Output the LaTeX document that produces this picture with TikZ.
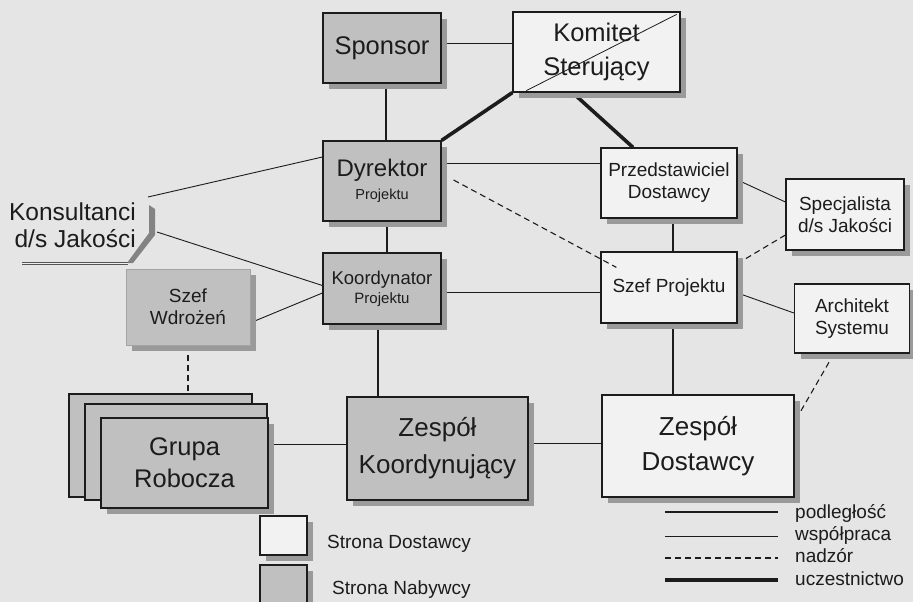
\documentclass[tikz,border=0pt]{standalone}
\usepackage{fontspec}
\setmainfont{Liberation Sans}
\usetikzlibrary{shadows,calc,backgrounds}

\definecolor{paper}{HTML}{E5E5E5}
\definecolor{boxwhite}{HTML}{F2F2F2}
\definecolor{boxgray}{HTML}{C0C0C0}
\definecolor{shade}{HTML}{9A9A9A}
\definecolor{ink}{HTML}{1C1C1C}

\tikzset{
  card/.style={draw=ink, line width=1.2pt, inner sep=0pt, text=ink, align=center},
  unit/.style={card, drop shadow={shadow xshift=6pt, shadow yshift=-6pt, fill=shade, opacity=1}},
  supplier/.style={unit, fill=boxwhite},
  buyer/.style={unit, fill=boxgray},
  % relation line kinds
  subord/.style={draw=ink, line width=1.4pt},
  coop/.style={draw=ink, line width=0.9pt},
  superv/.style={draw=ink, line width=1.1pt, dash pattern=on 6pt off 4pt},
  partic/.style={draw=ink, line width=3.6pt},
  bigtext/.style={font=\fontsize{25.5}{34}\selectfont},
  midtext/.style={font=\fontsize{19}{22}\selectfont},
  legtext/.style={font=\fontsize{19}{22}\selectfont, text=ink, anchor=west, inner sep=0pt},
}

\begin{document}
\begin{tikzpicture}[x=1pt, y=-1pt]
\useasboundingbox (0,0) rectangle (913,602);

% ---- upper level
\node[buyer, bigtext, minimum width=118pt, minimum height=70pt] (spo) at (382,48) {Sponsor};
\node[supplier, bigtext, minimum width=167pt, minimum height=80pt] (kom) at (596.5,52) {Komitet\\Sterujący};
\node[buyer, minimum width=118pt, minimum height=80pt] (dyr) at (382,181)
  {{\fontsize{24}{26}\selectfont Dyrektor}\\[6pt]{\fontsize{14.5}{16}\selectfont Projektu}};
\node[supplier, midtext, minimum width=136pt, minimum height=70pt] (prz) at (669,183) {Przedstawiciel\\Dostawcy};
\node[supplier, midtext, minimum width=118pt, minimum height=71pt] (spe) at (845,214.5) {Specjalista\\d/s Jakości};

% ---- middle level
\node[supplier, midtext, minimum width=136pt, minimum height=71pt] (szp) at (669,287.5) {Szef Projektu};
\node[supplier, midtext, minimum width=115pt, minimum height=69pt] (arc) at (852,318.5) {Architekt\\Systemu};
\node[buyer, minimum width=118pt, minimum height=71pt] (koo) at (382,288.5)
  {{\fontsize{18.5}{20}\selectfont Koordynator}\\[3pt]{\fontsize{15}{17}\selectfont Projektu}};
\node[buyer, midtext, draw=boxgray!85!black, line width=0.6pt, minimum width=124pt, minimum height=76pt] (wdr) at (188,307) {Szef\\Wdrożeń};

% ---- consultants with their bracket
\node[font=\fontsize{24.5}{27}\selectfont, text=ink, align=right, anchor=east, inner sep=0pt] (kon) at (136,225.5) {Konsultanci\\d/s Jakości};
\fill[shade!85!black] (149,205) -- (155,209) -- (155,235) -- (133,263) -- (127,263) -- (149,233) -- cycle;
\draw[draw=ink!75, line width=0.8pt, double=paper!60!white, double distance=1.8pt] (22,263.5) -- (128,263.5);
\coordinate (konTop) at (148,197);
\coordinate (konMid) at (157,232);

% ---- lower level
\node[card, fill=boxgray, minimum width=183pt, minimum height=103pt] (grA) at (160.5,445.5) {};
\node[card, fill=boxgray, minimum width=182pt, minimum height=96pt] (grB) at (176,452) {};
\node[buyer, font=\fontsize{25.5}{32}\selectfont, minimum width=167pt, minimum height=90pt] (grp) at (184.5,463) {Grupa\\Robocza};
\node[buyer, font=\fontsize{26}{37}\selectfont, minimum width=181pt, minimum height=103pt] (zk) at (437.5,448.5) {Zespół\\Koordynujący};
\node[supplier, font=\fontsize{26}{35}\selectfont, minimum width=192pt, minimum height=102pt] (zd) at (698,446) {Zespół\\Dostawcy};

% ---- connectors (beneath the boxes and their shadows)
\begin{pgfonlayer}{background}
\fill[paper] (0,0) rectangle (913,602);

\coordinate (a1) at ($(spo.east)+(0,-5)$);
\draw[coop] (a1) -- (a1 -| kom.west);
\coordinate (a2) at ($(spo.south)+(4,0)$);
\draw[subord] (a2) -- (a2 |- dyr.north);
\draw[partic] (dyr.north east) -- (kom.south west);
\draw[partic] ($(kom.south)+(-24,0)$) -- ($(prz.north)+(-36,0)$);
\coordinate (a3) at ($(dyr.east)+(0,-18)$);
\draw[coop] (a3) -- (a3 -| prz.west);
\coordinate (a4) at ($(dyr.south)+(5,0)$);
\draw[subord] (a4) -- (a4 |- koo.north);
\draw[coop] ($(prz.east)+(0,-3)$) -- ($(spe.west)+(0,-12.5)$);
\draw[superv] ($(spe.west)+(0,20.5)$) -- ($(szp.east)+(0,-24)$);
\draw[coop] ($(szp.east)+(0,5.5)$) -- ($(arc.west)+(0,-5.5)$);
\coordinate (a5) at ($(prz.south)+(4,0)$);
\draw[subord] (a5) -- (a5 |- szp.north);
\coordinate (a6) at ($(koo.east)+(0,3.5)$);
\draw[coop] (a6) -- (a6 -| szp.west);
\coordinate (a7) at ($(szp.south)+(4,0)$);
\draw[subord] (a7) -- (a7 |- zd.north);
\coordinate (a8) at ($(koo.south)+(-4,0)$);
\draw[subord] (a8) -- (a8 |- zk.north);
\coordinate (a9) at ($(zk.east)+(0,-5.5)$);
\draw[coop] (a9) -- (a9 -| zd.west);
\coordinate (a10) at ($(zk.west)+(0,-4.5)$);
\draw[coop] (a10) -- (a10 -| grp.east);
\coordinate (a11) at (wdr.south);
\draw[superv] (a11) -- (a11 |- grA.north);
\draw[coop] ($(wdr.east)+(2,15)$) -- ($(koo.west)+(0,4.5)$);
\draw[coop] (konTop) -- ($(dyr.west)+(0,-24)$);
\draw[coop] (konMid) -- ($(koo.west)+(0,-3)$);
\draw[superv] ($(arc.south)+(-18,0)$) -- ($(zd.north east)+(6,17)$);
\end{pgfonlayer}

% lines crossing over boxes
\draw[coop, line width=0.8pt] ($(kom.south west)+(14,-2)$) -- ($(kom.north east)+(-4,3)$);
\draw[superv] ($(dyr.east)+(12,-1)$) -- ($(szp.north west)+(16,16)$);

% ---- legend
\node[supplier, minimum width=47pt, minimum height=39pt] (lgS) at (283.5,535.5) {};
\node[buyer, minimum width=47pt, minimum height=46pt] (lgB) at (283.5,588) {};
\node[legtext] (lgSt) at (327,544) {Strona Dostawcy};
\node[legtext] (lgBt) at (332,590) {Strona Nabywcy};

\coordinate (l1a) at (665,512);  \coordinate (l1b) at (778,512);
\coordinate (l2a) at (665,536);  \coordinate (l2b) at (778,536);
\coordinate (l3a) at (665,558);  \coordinate (l3b) at (778,558);
\coordinate (l4a) at (665,580);  \coordinate (l4b) at (778,580);
\draw[subord] (l1a) -- (l1b);
\draw[coop] (l2a) -- (l2b);
\draw[superv] (l3a) -- (l3b);
\draw[partic] (l4a) -- (l4b);
\node[legtext] (t1) at (795,513) {podległość};
\node[legtext] (t2) at (795,535) {współpraca};
\node[legtext] (t3) at (795,556) {nadzór};
\node[legtext] (t4) at (795,579) {uczestnictwo};
\end{tikzpicture}
\end{document}
